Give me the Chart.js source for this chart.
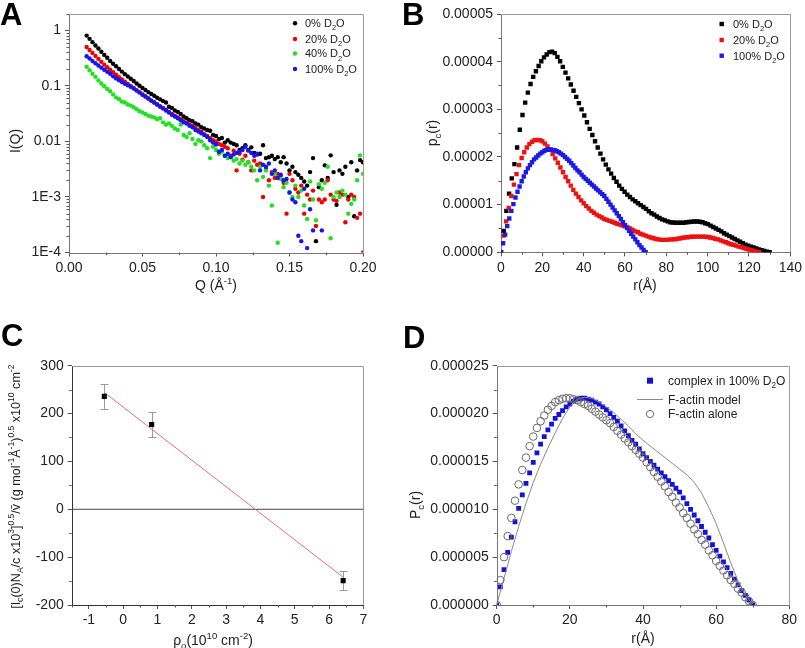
<!DOCTYPE html>
<html><head><meta charset="utf-8">
<script src="https://cdn.jsdelivr.net/npm/chart.js@4.4.1/dist/chart.umd.min.js"></script>
<style>
html,body{margin:0;padding:0;background:#fff;}
#wrap{position:relative;width:805px;height:648px;overflow:hidden;background:#fff;}
canvas{position:absolute;}
.lbl{position:absolute;font:bold 31px "Liberation Sans",Arial,sans-serif;line-height:1;color:#000;z-index:5;}
</style></head><body>
<div id="wrap">
<canvas id="cA" width="400" height="320" style="left:0;top:0"></canvas>
<canvas id="cB" width="405" height="320" style="left:400px;top:0"></canvas>
<canvas id="cC" width="400" height="328" style="left:0;top:320px"></canvas>
<canvas id="cD" width="405" height="328" style="left:400px;top:320px"></canvas>
<div class="lbl" style="left:0;top:-1px">A</div>
<div class="lbl" style="left:402px;top:-1px">B</div>
<div class="lbl" style="left:1px;top:320px">C</div>
<div class="lbl" style="left:403px;top:322px">D</div>
</div>
<script>
// ---------------- Panel A data: I(Q) ----------------
const qA = [0.012,0.014,0.016,0.018,0.020,0.022,0.024,0.026,0.028,0.030,
0.032,0.034,0.036,0.038,0.040,0.042,0.044,0.046,0.048,0.050,
0.052,0.054,0.056,0.058,0.060,0.062,0.064,0.066,0.068,0.070,
0.072,0.074,0.076,0.078,0.080,0.082,0.084,0.086,0.088,0.090,
0.092,0.094,0.096,0.098,0.100,0.102,0.104,0.106,0.108,0.110,
0.112,0.114,0.116,0.118,0.120,0.122,0.124,0.126,0.128,0.130,
0.132,0.134,0.136,0.138,0.140,0.142,0.144,0.146,0.148,0.150,
0.152,0.154,0.156,0.158,0.160,0.162,0.164,0.166,0.168,0.170,
0.172,0.174,0.176,0.178,0.180,0.182,0.184,0.186,0.188,0.190,
0.192,0.194,0.196,0.198,0.200];
const iD2O0 = [0.80,0.70,0.61,0.53,0.47,0.41,0.36,0.32,0.28,0.25,
0.225,0.20,0.18,0.162,0.147,0.134,0.122,0.110,0.100,0.091,
0.084,0.077,0.071,0.066,0.061,0.057,0.053,0.050,0.042,0.040,
0.036,0.034,0.031,0.028,0.026,0.024,0.023,0.021,0.020,0.018,
0.017,0.016,0.0155,0.013,0.0125,0.011,0.0115,0.0095,0.0105,0.0095,
0.009,0.0085,0.007,0.0075,0.0085,0.0070,0.0078,0.0062,0.0058,0.0060,
0.0085,0.0050,0.0052,0.0055,0.0048,0.0052,0.0042,0.0052,0.0040,0.0030,
0.0035,0.0028,0.0025,0.0022,0.0019,0.0016,0.0028,0.0050,0.00016,0.0015,
0.0020,0.0037,0.0022,0.0056,0.0028,0.00072,0.0030,0.0026,0.0035,0.0010,
0.0042,0.00045,0.0030,0.0046,0.0042];
const iD2O20 = [0.50,0.44,0.39,0.345,0.305,0.27,0.24,0.215,0.195,0.175,
0.158,0.143,0.130,0.118,0.108,0.099,0.091,0.083,0.076,0.070,
0.064,0.059,0.054,0.050,0.046,0.043,0.040,0.037,0.034,0.031,
0.029,0.027,0.025,0.023,0.0215,0.020,0.019,0.0175,0.016,0.015,
0.0135,0.0125,0.0115,0.0105,0.0100,0.0090,0.0085,0.0080,0.0075,0.0055,
0.0068,0.0030,0.0060,0.0047,0.0055,0.0042,0.0030,0.0045,0.0038,0.0040,
0.0010,0.0032,0.0020,0.0028,0.0022,0.0026,0.0024,0.0018,0.00050,0.0026,
0.0020,0.0014,0.0012,0.0016,0.00050,0.0011,0.0009,0.0013,0.00030,0.0009,
0.00080,0.0009,0.0020,0.0011,0.0009,0.00085,0.0012,0.0011,0.00035,0.0009,
0.0011,0.0010,0.00042,0.0005,0.0001];
const iD2O40 = [0.22,0.19,0.165,0.145,0.125,0.110,0.098,0.088,0.080,0.070,
0.062,0.058,0.052,0.050,0.046,0.044,0.041,0.038,0.035,0.033,
0.031,0.029,0.028,0.027,0.025,0.026,0.022,0.020,0.021,0.019,
0.017,0.016,0.020,0.013,0.012,0.014,0.011,0.009,0.0105,0.010,
0.0085,0.0075,0.0050,0.0080,0.0070,0.0060,0.0065,0.0055,0.0050,0.0052,
0.0045,0.0048,0.0040,0.0045,0.0038,0.0042,0.0035,0.0030,0.0020,0.0035,
0.0023,0.0030,0.0016,0.0007,0.0026,0.00015,0.0021,0.0015,0.0018,0.0012,
0.0010,0.0016,0.0010,0.0013,0.0007,0.0004,0.0019,0.0009,0.00038,0.0017,
0.0014,0.0018,0.0035,0.00018,0.0010,0.0012,0.0010,0.0013,0.0011,0.0005,
0.00075,0.0009,0.0020,0.0056,0.0026];
const iD2O100 = [0.34,0.31,0.28,0.255,0.232,0.212,0.195,0.179,0.165,0.148,
0.136,0.126,0.117,0.109,0.102,0.096,0.089,0.082,0.076,0.069,
0.064,0.059,0.054,0.050,0.046,0.042,0.039,0.036,0.033,0.030,
0.028,0.026,0.024,0.022,0.021,0.019,0.018,0.016,0.015,0.014,
0.013,0.012,0.0105,0.0095,0.0088,0.0065,0.0070,0.0055,0.0060,0.0052,
0.0058,0.0062,0.0065,0.0070,0.0080,0.0068,0.0062,0.0055,0.0060,0.0030,
0.0038,0.0035,0.0040,0.0026,0.0030,0.0022,0.0025,0.0020,0.0021,0.0012,
0.0009,0.0008,0.00020,0.00016,0.0014,0.00012,0.00060,0.00025,null,null,
0.00025,null,null,null,null,null,null,null,null,null,
null,null,null,null,null];
const aXTicks = [0,0.05,0.10,0.15,0.20];
const aXLabels = ['0.00','0.05','0.10','0.15','0.20'];
const aYTicks = [1e-4,1e-3,0.01,0.1,1];
const aYLabels = ['1E-4','1E-3','0.01','0.1','1'];

// ---------------- Panel B data: pc(r) ----------------
const rB0 = [0,1.3,2.6,3.9,5.2,6.5,7.8,9.1,10.4,11.7,13,14.3,15.6,16.9,18.2,19.5,20.8,22.1,23.4,24.7,
26,27.3,28.6,29.9,31.2,32.5,33.8,35.1,36.4,37.7,39,40.3,41.6,42.9,44.2,45.5,46.8,48.1,49.4,50.7,
52,53.3,54.6,55.9,57.2,58.5,59.8,61.1,62.4,63.7,65,66.3,67.6,68.9,70.2,71.5,72.8,74.1,75.4,76.7,
78,79.3,80.6,81.9,83.2,84.5,85.8,87.1,88.4,89.7,91,92.3,93.6,94.9,96.2,97.5,98.8,100.1,101.4,102.7,
104,105.3,106.6,107.9,109.2,110.5,111.8,113.1,114.4,115.7,117,118.3,119.6,120.9,122.2,123.5,124.8,126.1,127.4,128.7,130];
const pB0 = [0,0.45e-5,0.87e-5,1.23e-5,1.55e-5,1.85e-5,2.20e-5,2.57e-5,2.88e-5,3.14e-5,
3.35e-5,3.53e-5,3.68e-5,3.80e-5,3.91e-5,4.01e-5,4.09e-5,4.15e-5,4.20e-5,4.21e-5,
4.18e-5,4.10e-5,4.01e-5,3.89e-5,3.77e-5,3.65e-5,3.52e-5,3.39e-5,3.26e-5,3.13e-5,
3.00e-5,2.87e-5,2.73e-5,2.59e-5,2.46e-5,2.33e-5,2.20e-5,2.07e-5,1.95e-5,1.84e-5,
1.74e-5,1.65e-5,1.56e-5,1.48e-5,1.40e-5,1.33e-5,1.27e-5,1.21e-5,1.16e-5,1.11e-5,
1.07e-5,1.03e-5,0.99e-5,0.95e-5,0.91e-5,0.86e-5,0.82e-5,0.79e-5,0.75e-5,0.72e-5,
0.69e-5,0.67e-5,0.65e-5,0.63e-5,0.625e-5,0.62e-5,0.62e-5,0.62e-5,0.62e-5,0.63e-5,
0.635e-5,0.64e-5,0.645e-5,0.645e-5,0.64e-5,0.63e-5,0.61e-5,0.59e-5,0.56e-5,0.53e-5,
0.50e-5,0.47e-5,0.44e-5,0.40e-5,0.37e-5,0.34e-5,0.31e-5,0.28e-5,0.25e-5,0.22e-5,
0.19e-5,0.16e-5,0.14e-5,0.12e-5,0.10e-5,0.08e-5,0.06e-5,0.045e-5,0.03e-5,0.015e-5,0];
const rB20 = [0,1.25,2.5,3.75,5,6.25,7.5,8.75,10,11.25,12.5,13.75,15,16.25,17.5,18.75,20,21.25,22.5,23.75,
25,26.25,27.5,28.75,30,31.25,32.5,33.75,35,36.25,37.5,38.75,40,41.25,42.5,43.75,45,46.25,47.5,48.75,
50,51.25,52.5,53.75,55,56.25,57.5,58.75,60,61.25,62.5,63.75,65,66.25,67.5,68.75,70,71.25,72.5,73.75,
75,76.25,77.5,78.75,80,81.25,82.5,83.75,85,86.25,87.5,88.75,90,91.25,92.5,93.75,95,96.25,97.5,98.75,
100,101.25,102.5,103.75,105,106.25,107.5,108.75,110,111.25,112.5,113.75,115,116.25,117.5,118.75,120,121.25,122.5,123.75,125];
const pB20 = [0,0.35e-5,0.65e-5,0.93e-5,1.18e-5,1.42e-5,1.64e-5,1.83e-5,1.98e-5,2.10e-5,
2.20e-5,2.27e-5,2.32e-5,2.35e-5,2.36e-5,2.35e-5,2.33e-5,2.28e-5,2.22e-5,2.15e-5,
2.06e-5,1.97e-5,1.88e-5,1.78e-5,1.68e-5,1.58e-5,1.49e-5,1.40e-5,1.31e-5,1.23e-5,
1.16e-5,1.09e-5,1.03e-5,0.97e-5,0.92e-5,0.87e-5,0.83e-5,0.79e-5,0.76e-5,0.73e-5,
0.70e-5,0.68e-5,0.66e-5,0.64e-5,0.62e-5,0.60e-5,0.58e-5,0.56e-5,0.545e-5,0.52e-5,
0.50e-5,0.47e-5,0.44e-5,0.42e-5,0.39e-5,0.37e-5,0.35e-5,0.33e-5,0.31e-5,0.295e-5,
0.28e-5,0.27e-5,0.26e-5,0.26e-5,0.26e-5,0.265e-5,0.27e-5,0.275e-5,0.28e-5,0.29e-5,
0.30e-5,0.31e-5,0.315e-5,0.32e-5,0.325e-5,0.33e-5,0.33e-5,0.33e-5,0.33e-5,0.325e-5,
0.32e-5,0.31e-5,0.30e-5,0.285e-5,0.27e-5,0.25e-5,0.23e-5,0.21e-5,0.19e-5,0.17e-5,
0.155e-5,0.14e-5,0.12e-5,0.105e-5,0.09e-5,0.075e-5,0.06e-5,0.045e-5,0.03e-5,0.015e-5,0];
// 100% D2O complex (used in B and D)
const r100 = [0,1,2,3,4,5,6,7,8,9,10,11,12,13,14,15,16,17,18,19,20,21,22,23,24,25,26,27,28,29,
30,31,32,33,34,35,36,37,38,39,40,41,42,43,44,45,46,47,48,49,50,51,52,53,54,55,56,57,58,59,
60,61,62,63,64,65,66,67,68,69,70];
const p100 = [0,0.19e-5,0.37e-5,0.55e-5,0.71e-5,0.87e-5,1.01e-5,1.15e-5,1.27e-5,1.38e-5,
1.49e-5,1.59e-5,1.68e-5,1.76e-5,1.83e-5,1.89e-5,1.95e-5,1.99e-5,2.03e-5,2.07e-5,
2.10e-5,2.13e-5,2.15e-5,2.16e-5,2.16e-5,2.15e-5,2.14e-5,2.12e-5,2.10e-5,2.07e-5,
2.04e-5,2.00e-5,1.96e-5,1.92e-5,1.87e-5,1.82e-5,1.77e-5,1.72e-5,1.68e-5,1.63e-5,
1.58e-5,1.54e-5,1.50e-5,1.46e-5,1.42e-5,1.38e-5,1.34e-5,1.30e-5,1.26e-5,1.22e-5,
1.18e-5,1.12e-5,1.06e-5,1.00e-5,0.94e-5,0.88e-5,0.82e-5,0.76e-5,0.70e-5,0.63e-5,
0.57e-5,0.51e-5,0.45e-5,0.39e-5,0.33e-5,0.27e-5,0.21e-5,0.15e-5,0.10e-5,0.05e-5,0];
const bXTicks = [0,20,40,60,80,100,120,140];
const bXLabels = ['0','20','40','60','80','100','120','140'];
const bYTicks = [0,1e-5,2e-5,3e-5,4e-5,5e-5];
const bYLabels = ['0.00000','0.00001','0.00002','0.00003','0.00004','0.00005'];

// ---------------- Panel C data ----------------
const cRho = [-0.55, 0.83, 6.41];
const cVal = [236, 177, -149];
const cErr = [26, 27, 20];
const cFitX = [-0.55, 6.41];
const cFitY = [244, -142];
const cZeroX = [-1.5, 7];
const cZeroY = [0, 0];
const cXTicks = [-1,0,1,2,3,4,5,6,7];
const cXLabels = ['-1','0','1','2','3','4','5','6','7'];
const cYTicks = [-200,-100,0,100,200,300];
const cYLabels = ['-200','-100','0','100','200','300'];

// ---------------- Panel D data ----------------
const rAlone = r100;
const pAlone = [0,0.26e-5,0.50e-5,0.72e-5,0.91e-5,1.09e-5,1.26e-5,1.41e-5,1.54e-5,1.66e-5,
1.76e-5,1.85e-5,1.92e-5,1.98e-5,2.04e-5,2.08e-5,2.12e-5,2.14e-5,2.155e-5,2.16e-5,
2.16e-5,2.15e-5,2.14e-5,2.12e-5,2.10e-5,2.08e-5,2.05e-5,2.02e-5,1.99e-5,1.96e-5,
1.93e-5,1.90e-5,1.86e-5,1.82e-5,1.78e-5,1.74e-5,1.70e-5,1.66e-5,1.62e-5,1.58e-5,
1.54e-5,1.49e-5,1.44e-5,1.39e-5,1.34e-5,1.29e-5,1.24e-5,1.18e-5,1.13e-5,1.07e-5,
1.02e-5,0.96e-5,0.91e-5,0.85e-5,0.79e-5,0.74e-5,0.68e-5,0.63e-5,0.57e-5,0.52e-5,
0.46e-5,0.41e-5,0.36e-5,0.31e-5,0.26e-5,0.22e-5,0.17e-5,0.13e-5,0.08e-5,0.04e-5,0];
const rModel = [0,2,4,6,8,10,12,14,16,18,20,22,24,26,28,30,32,34,36,38,40,42,44,46,48,50,52,54,56,58,60,62,64,66,68,70];
const pModel = [0,0.28e-5,0.56e-5,0.82e-5,1.06e-5,1.28e-5,1.47e-5,1.64e-5,1.80e-5,1.95e-5,
2.07e-5,2.15e-5,2.17e-5,2.16e-5,2.12e-5,2.07e-5,2.01e-5,1.94e-5,1.87e-5,1.79e-5,
1.72e-5,1.66e-5,1.60e-5,1.54e-5,1.48e-5,1.42e-5,1.36e-5,1.28e-5,1.17e-5,1.02e-5,
0.85e-5,0.65e-5,0.44e-5,0.25e-5,0.10e-5,0.01e-5];
const dXTicks = [0,20,40,60,80];
const dXLabels = ['0','20','40','60','80'];
const dYTicks = [0,0.5e-5,1.0e-5,1.5e-5,2.0e-5,2.5e-5];
const dYLabels = ['0.000000','0.000005','0.000010','0.000015','0.000020','0.000025'];

// ---------------- helpers ----------------
const FONT = '"Liberation Sans", Arial, Helvetica, sans-serif';
Chart.defaults.font.family = FONT;
Chart.defaults.font.size = 14;
Chart.defaults.color = '#222';

function pts(xs, ys){ const o=[]; for(let i=0;i<xs.length;i++){ if(ys[i]!==null&&ys[i]!==undefined) o.push({x:xs[i],y:ys[i]}); } return o; }

function scale(pos, type, min, max, ticks, labels, size){
  return { type, position: pos, min, max,
    afterBuildTicks: s => { s.ticks = ticks.map(v => ({value: v})); },
    afterFit: s => { if (pos==='bottom') s.height = size; else s.width = size; },
    ticks: { autoSkip:false, maxRotation:0, minRotation:0, padding: pos==='bottom'?3:4, color:'#222',
      font:{family:FONT,size:14}, callback: (v,i) => labels[i] },
    grid: { display:true, drawOnChartArea:false, drawTicks:true, tickLength:4, color:'#555', lineWidth:1 },
    border: { display:false } };
}

function rich(ctx, parts, cx, cy, size, rot, align, color){
  ctx.save();
  ctx.translate(cx, cy);
  if (rot) ctx.rotate(-Math.PI/2);
  const segs = parts.map(p => { const m = p[1]||'n'; const fs = m==='n'?size:size*0.68;
    ctx.font = fs+'px '+FONT; return {t:p[0], m, fs, w: ctx.measureText(p[0]).width}; });
  const total = segs.reduce((a,s)=>a+s.w,0);
  let x = align==='left' ? 0 : -total/2;
  const base = size*0.36;
  ctx.fillStyle = color||'#222'; ctx.textBaseline='alphabetic'; ctx.textAlign='left';
  segs.forEach(s => { ctx.font = s.fs+'px '+FONT;
    const dy = s.m==='sub' ? size*0.28 : (s.m==='sup' ? -size*0.4 : 0);
    ctx.fillText(s.t, x, base+dy); x += s.w; });
  ctx.restore();
}

const X = v => Math.round(v)+0.5;

function deco(d){
  return {
    id: 'deco',
    beforeDatasetsDraw(chart){
      const ctx = chart.ctx, a = chart.chartArea, xs = chart.scales.x, ys = chart.scales.y;
      ctx.save(); ctx.lineWidth = 1;
      ctx.strokeStyle = d.light;
      ctx.beginPath(); ctx.moveTo(X(a.left), X(a.top)); ctx.lineTo(X(a.right), X(a.top)); ctx.lineTo(X(a.right), X(a.bottom)); ctx.stroke();
      ctx.strokeStyle = d.dark;
      ctx.beginPath(); ctx.moveTo(X(a.left), X(a.top)); ctx.lineTo(X(a.left), X(a.bottom)); ctx.lineTo(X(a.right), X(a.bottom)); ctx.stroke();
      ctx.strokeStyle = '#555';
      ctx.beginPath();
      d.minorX.forEach(v => { const px = X(xs.getPixelForValue(v)); ctx.moveTo(px, a.bottom); ctx.lineTo(px, a.bottom+2.5); });
      d.minorY.forEach(v => { const py = X(ys.getPixelForValue(v)); ctx.moveTo(a.left-2.5, py); ctx.lineTo(a.left, py); });
      ctx.stroke();
      if (d.before) d.before(chart);
      ctx.restore();
    },
    afterDraw(chart){
      const ctx = chart.ctx;
      (d.legend||[]).forEach(it => {
        ctx.save();
        if (it.kind==='circle'){ ctx.fillStyle=it.color; ctx.beginPath(); ctx.arc(it.mx, it.y, it.r, 0, Math.PI*2); ctx.fill(); }
        if (it.kind==='rect'){ ctx.fillStyle=it.color; ctx.fillRect(it.mx-it.r, it.y-it.r, it.r*2, it.r*2); }
        if (it.kind==='ocircle'){ ctx.strokeStyle=it.color; ctx.lineWidth=1; ctx.beginPath(); ctx.arc(it.mx, it.y, it.r, 0, Math.PI*2); ctx.stroke(); }
        if (it.kind==='line'){ ctx.strokeStyle=it.color; ctx.lineWidth=1; ctx.beginPath(); ctx.moveTo(it.mx-13, X(it.y)); ctx.lineTo(it.mx+13, X(it.y)); ctx.stroke(); }
        ctx.restore();
        rich(ctx, it.parts, it.tx, it.y, it.size, false, 'left', '#222');
      });
      (d.titles||[]).forEach(t => rich(ctx, t.parts, t.x, t.y, t.size, t.rot, 'center', '#222'));
    }
  };
}

function logMinors(){ const o=[]; [1e-4,1e-3,1e-2,1e-1,1].forEach(dd => { for(let k=2;k<=9;k++){ if(dd*k<=2) o.push(dd*k); } }); return o; }

function baseOptions(xs, ys, pad){
  return { responsive:false, animation:false, events:[],
    layout:{ autoPadding:false, padding: pad },
    plugins:{ legend:{display:false}, tooltip:{enabled:false} },
    scales:{ x: xs, y: ys } };
}

// ---------------- Chart A ----------------
new Chart(document.getElementById('cA'), {
  type:'scatter',
  data:{ datasets:[
    {data: pts(qA, iD2O0), pointStyle:'circle', pointRadius:2.2, pointBorderWidth:0, pointBackgroundColor:'#000', order:3},
    {data: pts(qA, iD2O20), pointStyle:'circle', pointRadius:2.2, pointBorderWidth:0, pointBackgroundColor:'#f00000', order:2},
    {data: pts(qA, iD2O40), pointStyle:'circle', pointRadius:2.2, pointBorderWidth:0, pointBackgroundColor:'#22e022', order:1},
    {data: pts(qA, iD2O100), pointStyle:'circle', pointRadius:2.2, pointBorderWidth:0, pointBackgroundColor:'#1515f0', order:0}
  ]},
  options: baseOptions(
    scale('bottom','linear',0,0.2,aXTicks,aXLabels,67.5),
    scale('left','logarithmic',1e-4,2,aYTicks,aYLabels,69),
    {left:0, top:13.5, right:37, bottom:0}),
  plugins:[deco({ light:'#9a9a9a', dark:'#777',
    minorX:[0.025,0.075,0.125,0.175], minorY: logMinors(),
    legend:[
      {kind:'circle', color:'#000', mx:295, y:23.3, r:2.2, tx:305, size:11, parts:[['0% D'],['2','sub'],['O']]},
      {kind:'circle', color:'#f00000', mx:295, y:39, r:2.2, tx:305, size:11, parts:[['20% D'],['2','sub'],['O']]},
      {kind:'circle', color:'#22e022', mx:295, y:53.5, r:2.2, tx:305, size:11, parts:[['40% D'],['2','sub'],['O']]},
      {kind:'circle', color:'#1515f0', mx:295, y:69, r:2.2, tx:305, size:11, parts:[['100% D'],['2','sub'],['O']]}
    ],
    titles:[
      {parts:[['Q (Å'],['-1','sup'],[')']], x:216, y:285, size:14, rot:false},
      {parts:[['I(Q)']], x:15, y:141, size:14, rot:true}
    ]})]
});

// ---------------- Chart B ----------------
new Chart(document.getElementById('cB'), {
  type:'scatter',
  data:{ datasets:[
    {data: pts(rB0, pB0), pointStyle:'rect', pointRadius:3.1, pointBorderWidth:0, pointBackgroundColor:'#000', order:2},
    {data: pts(rB20, pB20), pointStyle:'rect', pointRadius:3.1, pointBorderWidth:0, pointBackgroundColor:'#ee1111', order:1},
    {data: pts(r100, p100), pointStyle:'rect', pointRadius:3.1, pointBorderWidth:0, pointBackgroundColor:'#1a1ae8', order:0}
  ]},
  options: baseOptions(
    scale('bottom','linear',0,140,bXTicks,bXLabels,67.7),
    scale('left','linear',0,5e-5,bYTicks,bYLabels,101),
    {left:0, top:14, right:12.5, bottom:0}),
  plugins:[deco({ light:'#9a9a9a', dark:'#777',
    minorX:[10,30,50,70,90,110,130], minorY:[0.5e-5,1.5e-5,2.5e-5,3.5e-5,4.5e-5],
    legend:[
      {kind:'rect', color:'#000', mx:321.7, y:24, r:2.2, tx:333, size:11, parts:[['0% D'],['2','sub'],['O']]},
      {kind:'rect', color:'#ee1111', mx:321.7, y:40, r:2.2, tx:333, size:11, parts:[['20% D'],['2','sub'],['O']]},
      {kind:'rect', color:'#1a1ae8', mx:321.7, y:55.7, r:2.2, tx:333, size:11, parts:[['100% D'],['2','sub'],['O']]}
    ],
    titles:[
      {parts:[['r(Å)']], x:245, y:285, size:14, rot:false},
      {parts:[['p'],['c','sub'],['(r)']], x:31.7, y:133, size:14, rot:true}
    ]})]
});

// ---------------- Chart C ----------------
new Chart(document.getElementById('cC'), {
  type:'scatter',
  data:{ datasets:[
    {data: pts(cZeroX, cZeroY), showLine:true, borderColor:'#444', borderWidth:1, pointRadius:0, order:3},
    {data: pts(cFitX, cFitY), showLine:true, borderColor:'rgb(236,110,110)', borderWidth:1, pointRadius:0, order:1},
    {data: pts(cRho, cVal), pointStyle:'rect', pointRadius:3.6, pointBorderWidth:0, pointBackgroundColor:'#000', order:0}
  ]},
  options: baseOptions(
    scale('bottom','linear',-1.5,7,cXTicks,cXLabels,43),
    scale('left','linear',-200,300,cYTicks,cYLabels,71.7),
    {left:0, top:45.7, right:36.6, bottom:0}),
  plugins:[deco({ light:'#9a9a9a', dark:'#333',
    minorX:[-1.5,-0.5,0.5,1.5,2.5,3.5,4.5,5.5,6.5], minorY:[-150,-50,50,150,250],
    before(chart){
      const ctx = chart.ctx, xs = chart.scales.x, ys = chart.scales.y;
      ctx.strokeStyle = '#9a9a9a'; ctx.lineWidth = 1; ctx.beginPath();
      cRho.forEach((x,i) => {
        const px = X(xs.getPixelForValue(x));
        const t = X(ys.getPixelForValue(cVal[i]+cErr[i])), b = X(ys.getPixelForValue(cVal[i]-cErr[i]));
        ctx.moveTo(px, t); ctx.lineTo(px, b);
        ctx.moveTo(px-4, t); ctx.lineTo(px+4, t);
        ctx.moveTo(px-4, b); ctx.lineTo(px+4, b);
      });
      ctx.stroke();
    },
    legend:[],
    titles:[
      {parts:[['ρ'],['o','sub'],['(10'],['10','sup'],[' cm'],['-2','sup'],[')']], x:213, y:320, size:14, rot:false},
      {parts:[['[I'],['c','sub'],['(0)N'],['A','sub'],['/c x10'],['3','sup'],[']'],['0.5','sup'],['/v\u0304 (g mol'],['-1','sup'],['Å'],['-1','sup'],[')'],['0.5','sup'],[' x10'],['10','sup'],[' cm'],['-2','sup']], x:15, y:166.7, size:12.6, rot:true}
    ]})]
});

// ---------------- Chart D ----------------
new Chart(document.getElementById('cD'), {
  type:'scatter',
  data:{ datasets:[
    {data: pts(r100, p100), pointStyle:'rect', pointRadius:3.4, pointBorderWidth:0, pointBackgroundColor:'#1212d8', order:2},
    {data: pts(rModel, pModel), showLine:true, borderColor:'#8a8a8a', borderWidth:1, pointRadius:0, order:1},
    {data: pts(rAlone, pAlone), pointStyle:'circle', pointRadius:3.8, pointBorderWidth:1, pointBorderColor:'#6a6a6a', pointBackgroundColor:'rgba(255,255,255,0)', order:0}
  ]},
  options: baseOptions(
    scale('bottom','linear',0,80,dXTicks,dXLabels,43),
    scale('left','linear',0,2.5e-5,dYTicks,dYLabels,96.7),
    {left:0, top:45.7, right:15.7, bottom:0}),
  plugins:[deco({ light:'#9a9a9a', dark:'#777',
    minorX:[10,30,50,70], minorY:[0.25e-5,0.75e-5,1.25e-5,1.75e-5,2.25e-5],
    legend:[
      {kind:'rect', color:'#1212d8', mx:250, y:60.7, r:3, tx:268, size:12, parts:[['complex in 100% D'],['2','sub'],['O']]},
      {kind:'line', color:'#8a8a8a', mx:250, y:79.3, r:0, tx:268, size:12, parts:[['F-actin model']]},
      {kind:'ocircle', color:'#6a6a6a', mx:250, y:94, r:3.6, tx:268, size:12, parts:[['F-actin alone']]}
    ],
    titles:[
      {parts:[['r(Å)']], x:243, y:318, size:14, rot:false},
      {parts:[['P'],['c','sub'],['(r)']], x:15, y:185, size:14, rot:true}
    ]})]
});
</script>
</body></html>
